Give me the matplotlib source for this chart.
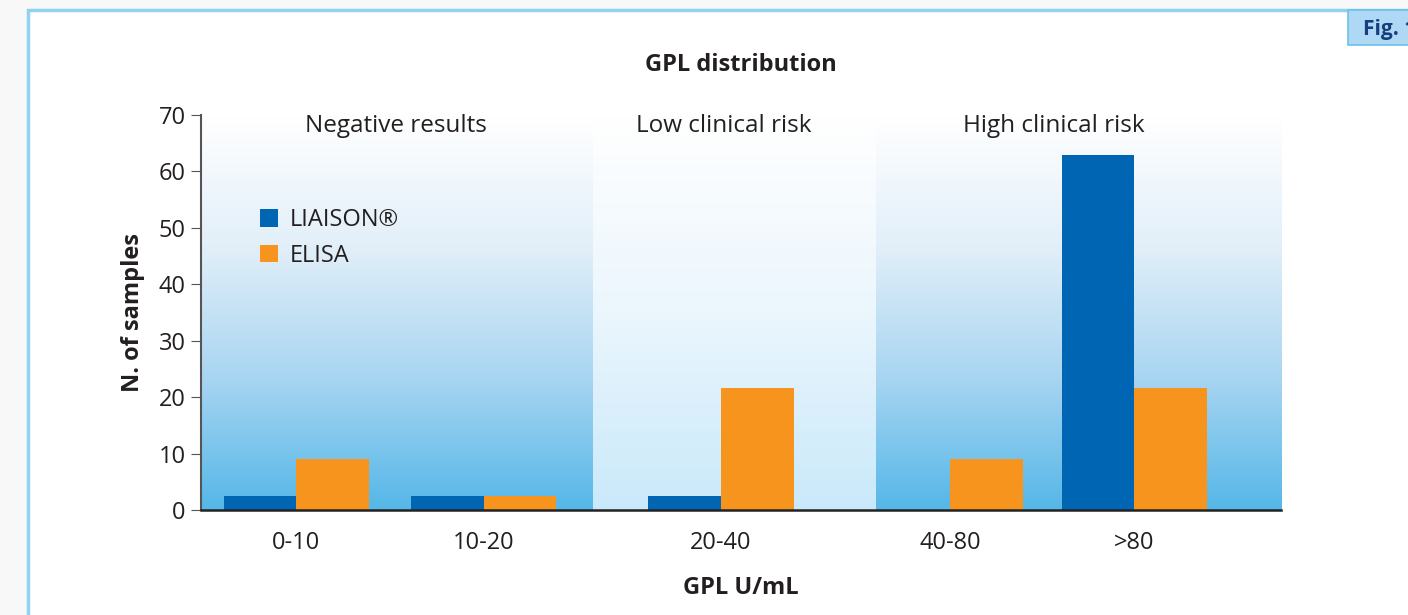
import matplotlib.pyplot as plt
import matplotlib.patches as mpatches
import numpy as np
from matplotlib.colors import LinearSegmentedColormap

plt.rcParams['font.family'] = ['Open Sans', 'DejaVu Sans']

# data
categories = ['0-10', '10-20', '20-40', '40-80', '>80']
liaison = [2.5, 2.5, 2.5, 0, 63]
elisa = [9, 2.5, 21.7, 9, 21.7]
zones = ['Negative results', 'Low clinical risk', 'High clinical risk']

# layout (x in axis units)
centers = [0.95, 2.825, 5.195, 7.485, 9.325]
zone_edges = [0, 3.92, 6.74, 10.79]
zone_label_x = [1.95, 5.22, 8.52]
bar_w = 0.725

col_liaison = '#0066b3'
col_elisa = '#f7941d'
txt = '#231f20'
fs = 17

fig = plt.figure(figsize=(14.08, 6.15), dpi=100)
fig.patch.set_facecolor('#f8f8f8')

# white framed panel with light blue border
frame = mpatches.Rectangle((28 / 1408, -0.05), 1.1, 1 - 10 / 615 + 0.05,
                           transform=fig.transFigure, facecolor='white',
                           edgecolor='#8fd3f0', linewidth=2.5, zorder=-2)
fig.patches.append(frame)

# "Fig. 1" tab (clipped at the right edge, as in the original)
tab = mpatches.Rectangle((1348 / 1408, 1 - 45 / 615), 0.1, 35 / 615,
                         transform=fig.transFigure, facecolor='#aed8f3',
                         edgecolor='#6cc0ec', linewidth=1.2, zorder=-1)
fig.patches.append(tab)
fig.text(1363 / 1408, 1 - 29 / 615, 'Fig. 1', fontsize=15, fontweight='bold',
         color='#173f7f', va='center', ha='left', zorder=2)

ax = fig.add_axes([201 / 1408, 1 - 510 / 615, 1080 / 1408, 395 / 615])
ax.set_zorder(5)
ax.patch.set_alpha(0)
ax.set_xlim(0, 10.79)
ax.set_ylim(0, 70)

# gradient backgrounds
strong = LinearSegmentedColormap.from_list('strong', ['#ffffff', '#e2eff9', '#a8d5f1', '#55b7e8'])
light = LinearSegmentedColormap.from_list('light', ['#ffffff', '#ebf6fd', '#c9e9fa'])
grad = np.linspace(0, 1, 256).reshape(-1, 1)
for i in range(3):
    cm = light if i == 1 else strong
    ax.imshow(grad, aspect='auto', cmap=cm, origin='upper',
              extent=[zone_edges[i], zone_edges[i + 1], 0, 70], zorder=0)
    ax.text(zone_label_x[i], 68, zones[i], ha='center', va='center',
            fontsize=17.5, color=txt, zorder=3)

x = np.array(centers)
ax.bar(x - bar_w / 2, liaison, width=bar_w, color=col_liaison, label='LIAISON®', zorder=2)
ax.bar(x + bar_w / 2, elisa, width=bar_w, color=col_elisa, label='ELISA', zorder=2)

ax.set_xticks(centers)
ax.set_xticklabels(categories, fontsize=fs, color=txt)
ax.tick_params(axis='x', length=0, pad=15)
ax.set_yticks(range(0, 71, 10))
ax.tick_params(axis='y', labelsize=fs, labelcolor=txt, length=7,
               color='#555555', direction='out', pad=4)

for s in ['top', 'right']:
    ax.spines[s].set_visible(False)
ax.spines['left'].set_color('#555555')
ax.spines['left'].set_linewidth(1.5)
ax.spines['bottom'].set_color('#222222')
ax.spines['bottom'].set_linewidth(1.8)

ax.set_title('GPL distribution', fontsize=fs, fontweight='bold', color=txt, pad=32)
ax.set_xlabel('GPL U/mL', fontsize=fs, fontweight='bold', color=txt, labelpad=15)
ax.set_ylabel('N. of samples', fontsize=fs, fontweight='bold', color=txt, labelpad=10)

leg = ax.legend(loc='upper left', bbox_to_anchor=(0.0546, 0.764), frameon=False,
                fontsize=fs, handlelength=0.75, handleheight=0.75,
                handletextpad=0.5, labelspacing=0.5, borderaxespad=0,
                borderpad=0, labelcolor=txt)

fig.savefig('out.png', dpi=100, facecolor=fig.get_facecolor())
